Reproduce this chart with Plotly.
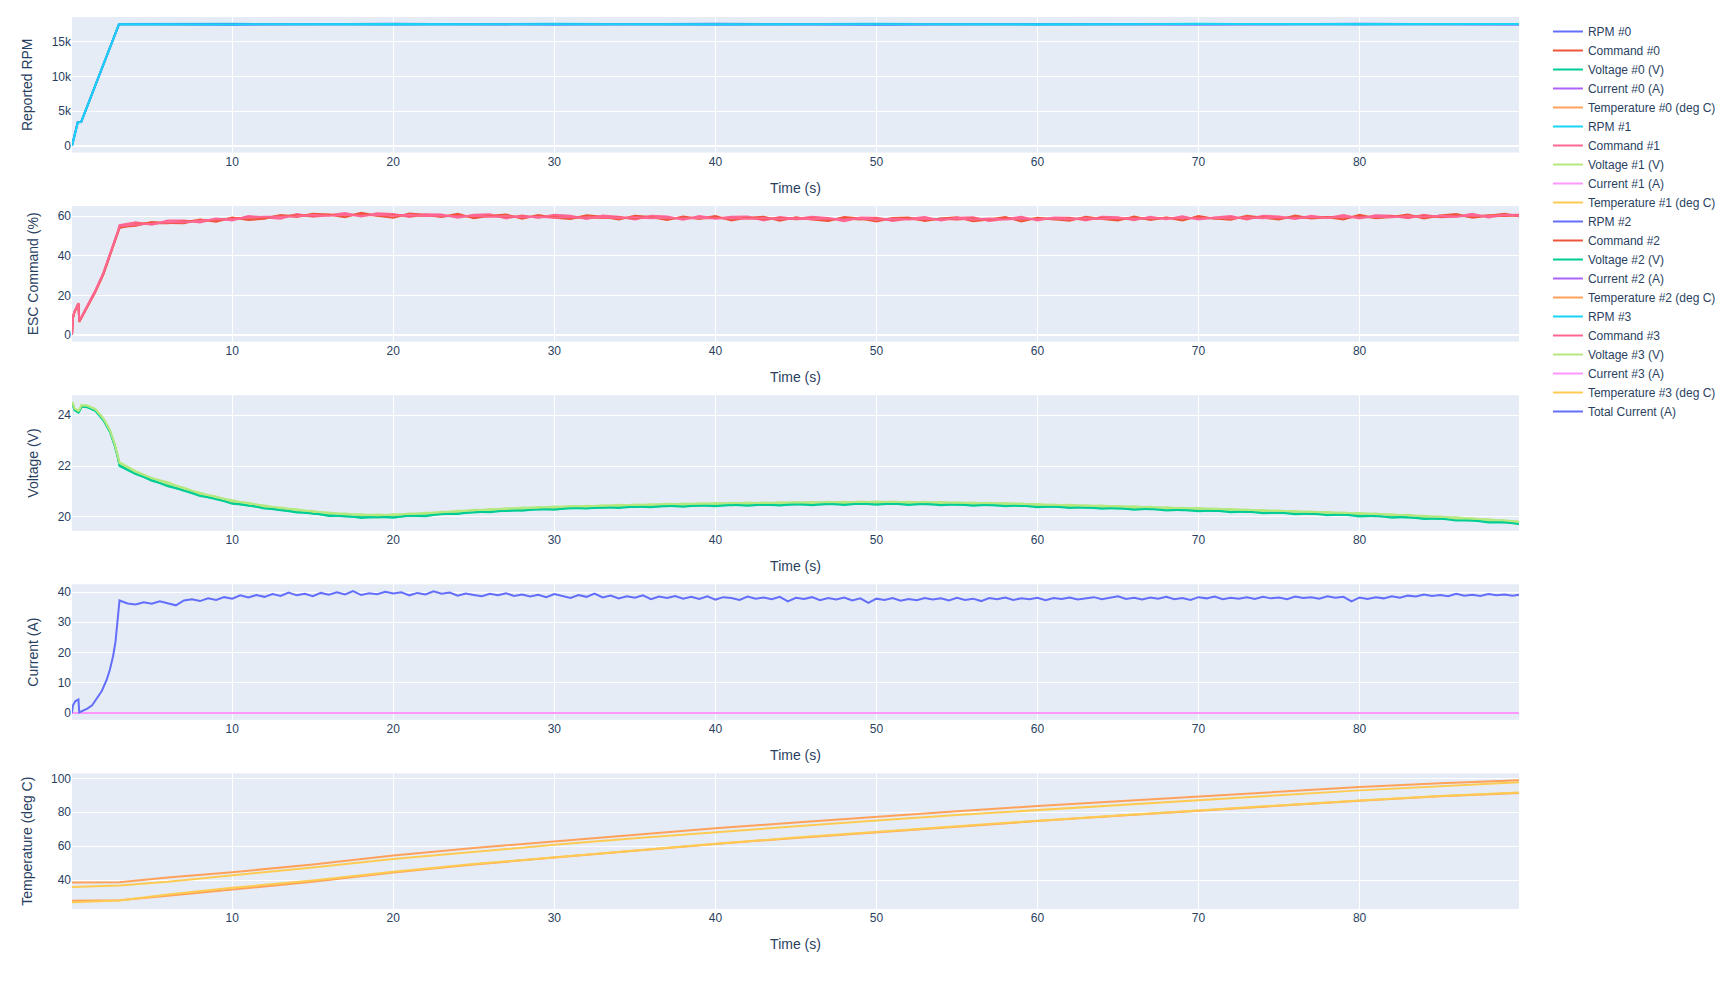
import plotly.graph_objects as go
from plotly.subplots import make_subplots

# ---------------- data ----------------
time_s = [0.05, 0.1, 0.2, 0.45, 0.5, 0.65, 1.0, 1.5, 2.0, 2.4, 2.7, 2.9, 3.0,
          4, 5, 6, 7, 8, 9, 10, 11, 12, 13,
          14, 15, 16, 17, 18, 19, 20, 21, 22, 23,
          24, 25, 26, 27, 28, 29, 30, 31, 32, 33,
          34, 35, 36, 37, 38, 39, 40, 41, 42, 43,
          44, 45, 46, 47, 48, 49, 50, 51, 52, 53,
          54, 55, 56, 57, 58, 59, 60, 61, 62, 63,
          64, 65, 66, 67, 68, 69, 70, 71, 72, 73,
          74, 75, 76, 77, 78, 79, 80, 81, 82, 83,
          84, 85, 86, 87, 88, 89, 89.9]

rpm_time = [0.05, 0.41, 0.62, 2.97, 10, 20, 30, 40, 50, 60, 70, 80, 89.9]
rpm_0 = [0, 3400, 3450, 17520, 17430, 17560, 17440, 17550, 17420, 17540, 17450, 17560, 17470]
rpm_1 = [0, 3350, 3400, 17540, 17560, 17430, 17550, 17440, 17560, 17430, 17550, 17440, 17540]
rpm_2 = [0, 3420, 3420, 17480, 17510, 17470, 17500, 17460, 17490, 17510, 17470, 17490, 17500]
rpm_3 = [0, 3380, 3440, 17510, 17470, 17530, 17480, 17520, 17470, 17500, 17530, 17480, 17520]

command_0 = [0.0, 8.5, 11.5, 16.0, 6.8, 9.0, 14.0, 22.0, 31.0, 40.0, 47.0, 52.0, 54.5,
             55.2, 57.1, 56.6, 56.4, 58.3, 57.2, 59.4, 58.1, 58.7, 60.6,
             59.6, 61.3, 60.9, 59.5, 61.7, 60.2, 59.3, 61.4, 60.8, 59.6,
             61.2, 59.0, 60.3, 60.9, 58.7, 60.6, 59.2, 58.6, 60.5, 59.7,
             58.3, 60.2, 59.6, 58.1, 59.9, 58.7, 60.1, 57.8, 59.3, 59.8,
             57.7, 59.5, 58.4, 57.6, 59.6, 58.9, 57.4, 59.1, 59.4, 57.6,
             58.8, 59.5, 57.5, 58.3, 59.6, 57.4, 59.2, 58.5, 57.7, 59.8,
             58.6, 57.8, 59.9, 58.1, 59.4, 57.9, 60.1, 58.8, 58.2, 60.2,
             59.1, 58.3, 60.4, 58.9, 59.5, 58.4, 60.7, 59.0, 59.6, 60.9,
             58.9, 60.4, 61.1, 59.3, 60.2, 61.3, 60.0]
command_1 = [0.0, 9.0, 11.8, 15.7, 7.0, 9.3, 14.4, 22.5, 31.5, 40.5, 47.5, 52.5, 55.5,
             56.9, 55.7, 57.8, 57.9, 56.8, 58.8, 57.9, 60.1, 59.6, 58.8,
             61.1, 59.7, 60.5, 61.6, 59.9, 61.5, 61.2, 59.6, 61.0, 60.9,
             59.2, 60.8, 61.0, 58.9, 60.4, 59.3, 60.7, 60.3, 58.6, 60.4,
             59.8, 58.4, 60.3, 59.9, 58.2, 60.1, 58.9, 59.7, 59.9, 57.9,
             59.6, 58.7, 59.8, 59.1, 57.5, 59.4, 59.3, 57.6, 58.7, 59.6,
             57.8, 59.2, 59.5, 57.6, 58.6, 59.7, 57.9, 59.4, 59.3, 57.9,
             59.7, 59.5, 58.0, 59.8, 58.5, 60.0, 58.3, 59.4, 60.1, 58.4,
             60.3, 59.9, 58.6, 60.2, 59.1, 60.6, 58.9, 60.5, 60.3, 59.0,
             60.8, 59.5, 59.7, 61.2, 59.4, 60.6, 60.7]
command_2 = [0.0, 8.2, 11.2, 15.9, 6.5, 8.8, 13.8, 21.7, 30.6, 39.6, 46.6, 51.6, 54.0,
             56.1, 56.6, 56.4, 57.4, 58.0, 58.0, 59.0, 59.3, 59.2, 60.1,
             60.5, 60.3, 60.7, 60.5, 60.9, 60.4, 60.6, 60.4, 60.5, 60.0,
             60.3, 59.8, 60.1, 59.6, 59.9, 59.5, 59.7, 59.3, 59.5, 59.1,
             59.4, 59.0, 59.4, 58.9, 59.3, 58.8, 59.2, 58.7, 59.1, 58.6,
             59.0, 58.5, 58.9, 58.4, 58.8, 58.3, 58.8, 58.3, 58.7, 58.2,
             58.7, 58.3, 58.8, 58.3, 58.8, 58.4, 58.9, 58.5, 58.9, 58.6,
             59.0, 58.6, 59.1, 58.7, 59.2, 58.8, 59.2, 58.9, 59.3, 59.0,
             59.4, 59.0, 59.5, 59.1, 59.6, 59.3, 59.8, 59.4, 59.9, 59.6,
             60.1, 59.7, 60.3, 59.9, 60.5, 60.1, 60.4]
command_3 = [0.0, 8.8, 11.6, 16.1, 6.9, 9.1, 14.2, 22.2, 31.2, 40.2, 47.2, 52.2, 55.0,
             55.8, 56.2, 57.0, 57.0, 57.6, 58.5, 58.5, 59.4, 59.8, 59.7,
             60.0, 60.6, 60.3, 60.8, 60.3, 60.8, 60.3, 60.7, 60.1, 60.4,
             59.9, 60.2, 59.7, 60.0, 59.5, 59.8, 59.3, 59.6, 59.2, 59.5,
             59.1, 59.5, 59.0, 59.3, 58.9, 59.2, 58.8, 59.1, 58.7, 59.0,
             58.6, 58.9, 58.5, 58.8, 58.4, 58.8, 58.4, 58.7, 58.3, 58.7,
             58.3, 58.8, 58.4, 58.8, 58.4, 58.9, 58.5, 58.9, 58.5, 59.0,
             58.6, 59.1, 58.7, 59.1, 58.8, 59.2, 58.9, 59.3, 59.0, 59.4,
             59.0, 59.5, 59.1, 59.6, 59.2, 59.7, 59.4, 59.8, 59.5, 60.0,
             59.7, 60.2, 59.9, 60.4, 60.0, 60.6, 60.3]

voltage_0 = [24.45, 24.4, 24.2, 24.1, 24.15, 24.33, 24.31, 24.17, 23.8, 23.35, 22.8, 22.35, 22.0,
             21.68, 21.46, 21.2, 21.05, 20.82, 20.72, 20.52, 20.47, 20.33, 20.28,
             20.17, 20.15, 20.04, 20.05, 19.96, 20.01, 19.97, 20.05, 20.03, 20.12,
             20.11, 20.2, 20.18, 20.26, 20.24, 20.31, 20.28, 20.35, 20.33, 20.38,
             20.35, 20.41, 20.38, 20.44, 20.4, 20.46, 20.42, 20.48, 20.44, 20.49,
             20.45, 20.51, 20.46, 20.52, 20.47, 20.53, 20.48, 20.53, 20.47, 20.52,
             20.46, 20.5, 20.44, 20.48, 20.42, 20.45, 20.38, 20.41, 20.35, 20.38,
             20.32, 20.35, 20.28, 20.32, 20.25, 20.28, 20.22, 20.25, 20.18, 20.21,
             20.14, 20.17, 20.1, 20.13, 20.06, 20.09, 20.02, 20.05, 19.97, 20.0,
             19.92, 19.94, 19.86, 19.87, 19.78, 19.79, 19.72]
voltage_1 = [24.5, 24.48, 24.27, 24.18, 24.22, 24.4, 24.38, 24.24, 23.88, 23.42, 22.88, 22.42, 22.15,
             21.8, 21.52, 21.36, 21.1, 20.95, 20.76, 20.66, 20.52, 20.45, 20.33,
             20.3, 20.19, 20.17, 20.09, 20.1, 20.05, 20.1, 20.09, 20.16, 20.16,
             20.24, 20.24, 20.31, 20.3, 20.37, 20.35, 20.41, 20.39, 20.44, 20.42,
             20.48, 20.45, 20.5, 20.48, 20.53, 20.5, 20.55, 20.52, 20.57, 20.53,
             20.58, 20.55, 20.59, 20.56, 20.6, 20.57, 20.61, 20.58, 20.6, 20.56,
             20.59, 20.54, 20.57, 20.52, 20.55, 20.5, 20.51, 20.46, 20.48, 20.43,
             20.45, 20.4, 20.42, 20.36, 20.38, 20.33, 20.35, 20.3, 20.31, 20.26,
             20.27, 20.22, 20.23, 20.18, 20.19, 20.14, 20.15, 20.1, 20.1, 20.05,
             20.05, 19.99, 19.99, 19.92, 19.91, 19.84, 19.82]
voltage_2 = [24.47, 24.42, 24.22, 24.12, 24.17, 24.35, 24.33, 24.19, 23.82, 23.37, 22.82, 22.37, 22.05,
             21.72, 21.42, 21.25, 21.03, 20.86, 20.69, 20.56, 20.44, 20.37, 20.26,
             20.21, 20.12, 20.08, 20.02, 20.0, 19.98, 20.01, 20.03, 20.07, 20.1,
             20.15, 20.17, 20.22, 20.23, 20.28, 20.29, 20.32, 20.33, 20.37, 20.36,
             20.4, 20.39, 20.43, 20.42, 20.45, 20.44, 20.47, 20.46, 20.49, 20.47,
             20.5, 20.49, 20.51, 20.5, 20.52, 20.51, 20.53, 20.51, 20.52, 20.5,
             20.51, 20.48, 20.49, 20.46, 20.47, 20.43, 20.43, 20.4, 20.4, 20.36,
             20.37, 20.33, 20.33, 20.3, 20.3, 20.26, 20.27, 20.23, 20.23, 20.19,
             20.19, 20.15, 20.15, 20.11, 20.11, 20.07, 20.07, 20.03, 20.02, 19.98,
             19.97, 19.93, 19.91, 19.86, 19.83, 19.79, 19.74]
voltage_3 = [24.52, 24.46, 24.26, 24.17, 24.21, 24.39, 24.37, 24.23, 23.86, 23.41, 22.86, 22.4, 22.12,
             21.77, 21.55, 21.3, 21.15, 20.91, 20.8, 20.61, 20.56, 20.41, 20.37,
             20.26, 20.23, 20.13, 20.13, 20.06, 20.09, 20.06, 20.13, 20.12, 20.2,
             20.2, 20.28, 20.27, 20.34, 20.33, 20.39, 20.37, 20.43, 20.41, 20.46,
             20.44, 20.49, 20.47, 20.52, 20.49, 20.54, 20.51, 20.56, 20.53, 20.57,
             20.54, 20.59, 20.55, 20.6, 20.56, 20.61, 20.57, 20.61, 20.56, 20.6,
             20.55, 20.58, 20.53, 20.56, 20.51, 20.53, 20.47, 20.49, 20.44, 20.46,
             20.41, 20.43, 20.37, 20.4, 20.34, 20.36, 20.31, 20.33, 20.27, 20.29,
             20.23, 20.25, 20.19, 20.21, 20.15, 20.17, 20.11, 20.13, 20.06, 20.08,
             20.01, 20.02, 19.94, 19.95, 19.87, 19.87, 19.8]

current_time = [0.05, 89.9]
current_0 = [0.0, 0.0]
current_1 = [0.0, 0.0]
current_2 = [0.0, 0.0]
current_3 = [0.0, 0.0]

total_time = [0.05, 0.1, 0.25, 0.45, 0.5, 0.7, 1.0, 1.3, 1.6, 1.9, 2.2, 2.4, 2.6, 2.75, 2.85, 2.95, 3.0,
              3.5, 4.0, 4.5, 5.0, 5.5, 6.0, 6.5, 7.0, 7.5, 8.0,
              8.5, 9.0, 9.5, 10.0, 10.5, 11.0, 11.5, 12.0, 12.5, 13.0,
              13.5, 14.0, 14.5, 15.0, 15.5, 16.0, 16.5, 17.0, 17.5, 18.0,
              18.5, 19.0, 19.5, 20.0, 20.5, 21.0, 21.5, 22.0, 22.5, 23.0,
              23.5, 24.0, 24.5, 25.0, 25.5, 26.0, 26.5, 27.0, 27.5, 28.0,
              28.5, 29.0, 29.5, 30.0, 30.5, 31.0, 31.5, 32.0, 32.5, 33.0,
              33.5, 34.0, 34.5, 35.0, 35.5, 36.0, 36.5, 37.0, 37.5, 38.0,
              38.5, 39.0, 39.5, 40.0, 40.5, 41.0, 41.5, 42.0, 42.5, 43.0,
              43.5, 44.0, 44.5, 45.0, 45.5, 46.0, 46.5, 47.0, 47.5, 48.0,
              48.5, 49.0, 49.5, 50.0, 50.5, 51.0, 51.5, 52.0, 52.5, 53.0,
              53.5, 54.0, 54.5, 55.0, 55.5, 56.0, 56.5, 57.0, 57.5, 58.0,
              58.5, 59.0, 59.5, 60.0, 60.5, 61.0, 61.5, 62.0, 62.5, 63.0,
              63.5, 64.0, 64.5, 65.0, 65.5, 66.0, 66.5, 67.0, 67.5, 68.0,
              68.5, 69.0, 69.5, 70.0, 70.5, 71.0, 71.5, 72.0, 72.5, 73.0,
              73.5, 74.0, 74.5, 75.0, 75.5, 76.0, 76.5, 77.0, 77.5, 78.0,
              78.5, 79.0, 79.5, 80.0, 80.5, 81.0, 81.5, 82.0, 82.5, 83.0,
              83.5, 84.0, 84.5, 85.0, 85.5, 86.0, 86.5, 87.0, 87.5, 88.0,
              88.5, 89.0, 89.5, 89.9]
total_current = [0.0, 2.4, 3.9, 4.5, 0.2, 0.7, 1.5, 2.6, 4.8, 7.3, 11.0, 14.3, 18.8, 23.5, 29.0, 35.0, 37.2,
                 36.2, 35.9, 36.6, 36.1, 36.9, 36.3, 35.6, 37.2, 37.6, 37.0,
                 37.9, 37.4, 38.3, 37.8, 38.9, 38.2, 39.0, 38.4, 39.3, 38.7,
                 39.8, 38.9, 39.4, 38.6, 39.7, 39.1, 39.9, 39.2, 40.3, 39.0,
                 39.6, 39.3, 40.1, 39.5, 39.9, 38.9, 39.7, 39.2, 40.2, 39.4,
                 39.8, 38.8, 39.5, 39.0, 38.6, 39.4, 38.9, 39.6, 38.7, 39.2,
                 38.5, 39.1, 38.3, 39.3, 38.6, 38.0, 39.0, 38.4, 39.5, 38.2,
                 38.8, 37.9, 38.6, 38.1, 38.9, 37.6, 38.5, 38.0, 38.7, 37.8,
                 38.4, 37.7, 38.6, 37.5, 38.3, 38.0, 37.4, 38.5, 37.8, 38.2,
                 37.6, 38.4, 36.9, 38.1, 37.7, 38.3, 37.3, 38.0, 37.5, 38.2,
                 37.2, 37.9, 36.4, 37.8, 37.4, 38.0, 37.1, 37.7, 37.3, 38.0,
                 37.5, 37.9, 37.2, 38.1, 37.4, 37.8, 37.0, 38.0, 37.6, 38.2,
                 37.4, 37.9, 37.6, 38.1, 37.3, 38.0, 37.7, 38.2, 37.5, 37.9,
                 38.3, 37.6, 38.0, 38.6, 37.7, 38.1, 37.5, 38.2, 37.8, 38.4,
                 37.6, 38.0, 37.4, 38.3, 37.9, 38.5, 37.6, 38.1, 37.8, 38.3,
                 37.7, 38.4, 37.9, 38.2, 37.6, 38.5, 38.0, 38.3, 37.8, 38.6,
                 38.1, 38.4, 36.9, 38.2, 37.7, 38.3, 37.9, 38.6, 38.1, 38.8,
                 38.5, 39.2, 38.7, 39.0, 38.6, 39.4, 38.8, 39.1, 38.7, 39.3,
                 38.9, 39.2, 38.8, 39.1]

temp_time = [0.05, 3, 6, 10, 15, 20, 25, 30, 35, 40, 45, 50, 55, 60, 65, 70, 75, 80, 85, 89.9]
temperature_0 = [38.6, 38.8, 41.5, 44.7, 49.2, 54.5, 59.0, 63.0, 67.0, 70.6, 74.0, 77.4, 80.6, 83.7, 86.6, 89.3, 92.1, 94.9, 97.1, 98.9]
temperature_1 = [36.0, 36.8, 39.0, 42.7, 47.5, 52.4, 56.8, 60.8, 64.7, 68.3, 71.8, 75.2, 78.4, 81.4, 84.3, 87.1, 90.0, 92.9, 95.5, 97.7]
temperature_2 = [27.8, 28.2, 30.8, 34.5, 39.0, 44.5, 49.2, 53.3, 57.5, 61.3, 64.9, 68.3, 71.6, 74.8, 77.9, 80.9, 83.8, 86.8, 89.4, 91.3]
temperature_3 = [27.0, 28.0, 31.5, 35.5, 39.8, 45.0, 49.5, 53.6, 57.7, 61.5, 65.1, 68.5, 71.8, 75.0, 78.1, 81.1, 84.1, 87.0, 89.6, 91.6]

palette = ["#636efa", "#EF553B", "#00cc96", "#ab63fa", "#FFA15A",
           "#19d3f3", "#FF6692", "#B6E880", "#FF97FF", "#FECB52"]

y_titles = ["Reported RPM", "ESC Command (%)", "Voltage (V)", "Current (A)", "Temperature (deg C)"]

# ---------------- figure ----------------
fig = make_subplots(rows=5, cols=1, vertical_spacing=0.06)

rpm = [rpm_0, rpm_1, rpm_2, rpm_3]
cmd = [command_0, command_1, command_2, command_3]
volt = [voltage_0, voltage_1, voltage_2, voltage_3]
cur = [current_0, current_1, current_2, current_3]
temp = [temperature_0, temperature_1, temperature_2, temperature_3]

ci = 0
for i in range(4):
    series = [
        (f"RPM #{i}", rpm_time, rpm[i], 1),
        (f"Command #{i}", time_s, cmd[i], 2),
        (f"Voltage #{i} (V)", time_s, volt[i], 3),
        (f"Current #{i} (A)", current_time, cur[i], 4),
        (f"Temperature #{i} (deg C)", temp_time, temp[i], 5),
    ]
    for name, x, y, row in series:
        fig.add_trace(go.Scatter(x=x, y=y, mode="lines", name=name,
                                 line=dict(color=palette[ci % 10], width=2)),
                      row=row, col=1)
        ci += 1

fig.add_trace(go.Scatter(x=total_time, y=total_current, mode="lines", name="Total Current (A)",
                         line=dict(color=palette[ci % 10], width=2)), row=4, col=1)

for r in range(1, 6):
    fig.update_xaxes(title_text="Time (s)", row=r, col=1)
    fig.update_yaxes(title_text=y_titles[r - 1], row=r, col=1)

fig.update_layout(
    width=1733, height=991,
    template="plotly",
    font=dict(family="Liberation Sans, Arial, sans-serif"),
    margin=dict(l=72, r=214, t=17, b=82),
)

fig.write_html("out.html")
